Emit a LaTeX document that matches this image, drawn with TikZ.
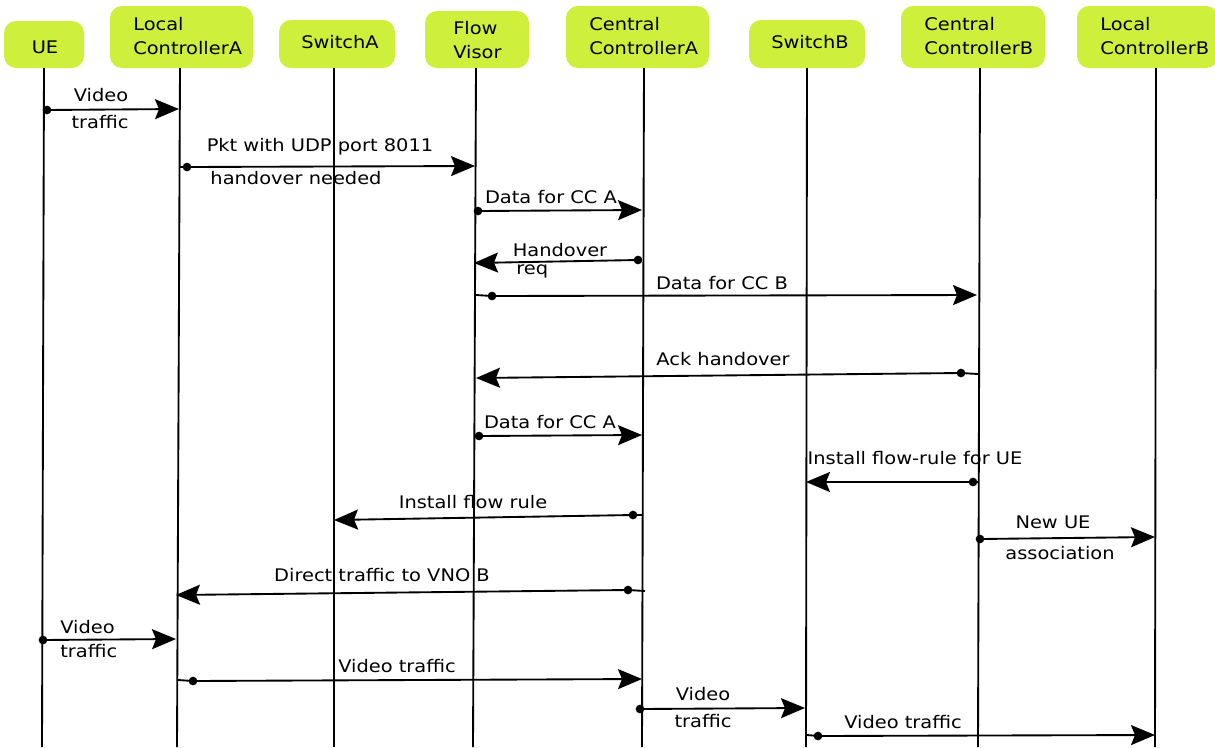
\documentclass[tikz,border=0pt]{standalone}
\usepackage{fontspec}
\setmainfont{DejaVu Sans}[FakeStretch=1.12]
\usetikzlibrary{arrows.meta,fit}
\definecolor{hdr}{RGB}{206,240,60}
\begin{document}
\begin{tikzpicture}[x=0.75pt,y=-0.75pt,
 actor/.style={fill=hdr, draw=none, rounded corners=9pt, inner sep=0pt},
 htxt/.style={font=\fontsize{13}{18}\selectfont, inner sep=0pt, align=left},
 life/.style={line width=1.4pt},
 msg/.style={line width=1.4pt, -{Stealth[length=18pt,width=15pt,inset=3pt]}},
 lbl/.style={font=\fontsize{13}{15}\selectfont, inner sep=0pt},
 dot/.style={circle, fill=black, inner sep=0pt, minimum size=6.5pt}
]
\useasboundingbox (0,0) rectangle (1215,747);
% headers
\node[actor, fit={(4,21) (84,68)}] (ue) {};
\node[htxt] (uet) at (45,47) {UE};
\node[actor, fit={(110,6) (253,68)}] (lca) {};
\node[htxt, anchor=west] (lcat) at (133,36) {Local\\ControllerA};
\node[actor, fit={(279,20) (395,68)}] (swa) {};
\node[htxt] (swat) at (340,42) {SwitchA};
\node[actor, fit={(425,11) (529,68)}] (fv) {};
\node[htxt, anchor=west] (fvt) at (453,40) {Flow\\Visor};
\node[actor, fit={(566,6) (709,68)}] (cca) {};
\node[htxt, anchor=west] (ccat) at (589,36) {Central\\ControllerA};
\node[actor, fit={(749,20) (865,68)}] (swb) {};
\node[htxt] (swbt) at (810,42) {SwitchB};
\node[actor, fit={(901,6) (1045,68)}] (ccb) {};
\node[htxt, anchor=west] (ccbt) at (924,36) {Central\\ControllerB};
\node[actor, fit={(1077,6) (1218,68)}] (lcb) {};
\node[htxt, anchor=west] (lcbt) at (1100,36) {Local\\ControllerB};
% lifelines
\coordinate (ueT) at (44,68);   \coordinate (ueB) at (42,747);
\coordinate (lcaT) at (180,68); \coordinate (lcaB) at (177,747);
\coordinate (swaT) at (334,68); \coordinate (swaB) at (334,747);
\coordinate (fvT) at (476,68);  \coordinate (fvB) at (473,747);
\coordinate (ccaT) at (644,68); \coordinate (ccaB) at (642,747);
\coordinate (swbT) at (807,68); \coordinate (swbB) at (806,747);
\coordinate (ccbT) at (980,68); \coordinate (ccbB) at (978,747);
\coordinate (lcbT) at (1156,68); \coordinate (lcbB) at (1155,747);
\foreach \l in {ue,lca,swa,fv,cca,swb,ccb,lcb} \draw[life] (\l T) -- (\l B);
% message 1
\node[dot] (d1) at (47,110) {}; \coordinate (t1) at (179,109);
\draw[msg] (d1.center) -- (t1);
\node[lbl] (l1a) at (101,95) {Video}; \node[lbl] (l1b) at (100,122) {traffic};
% message 2
\coordinate (s2) at (180,167); \node[dot] (d2) at (187,167) {}; \coordinate (t2) at (475,166);
\draw[msg] (s2) -- (d2.center) -- (t2);
\node[lbl] (l2a) at (320,147) {Pkt with UDP port 8011}; \node[lbl] (l2b) at (296,178) {handover needed};
% message 3
\node[dot] (d3) at (478,211) {}; \coordinate (t3) at (642,210);
\draw[msg] (d3.center) -- (t3);
\node[lbl] (l3) at (551,197) {Data for CC A};
% message 4
\node[dot] (d4) at (638,260) {}; \coordinate (t4) at (474,263);
\draw[msg] (d4.center) -- (t4);
\node[lbl] (l4a) at (560,250) {Handover}; \node[lbl, anchor=west] (l4b) at (516,271) {req};
% message 5
\coordinate (s5) at (476,295); \node[dot] (d5) at (492,296) {}; \coordinate (t5) at (977,295);
\draw[msg] (s5) -- (d5.center) -- (t5);
\node[lbl] (l5) at (722,283) {Data for CC B};
% message 6
\coordinate (s6) at (978,374); \node[dot] (d6) at (961,373) {}; \coordinate (t6) at (476,378);
\draw[msg] (s6) -- (d6.center) -- (t6);
\node[lbl] (l6) at (723,359) {Ack handover};
% message 7
\node[dot] (d7) at (479,436) {}; \coordinate (t7) at (642,435);
\draw[msg] (d7.center) -- (t7);
\node[lbl] (l7) at (550,422) {Data for CC A};
% message 8
\coordinate (s8) at (979,482); \node[dot] (d8) at (973,482) {}; \coordinate (t8) at (806,482);
\draw[msg] (s8) -- (d8.center) -- (t8);
\node[lbl] (l8) at (915,458) {Install flow-rule for UE};
% message 9
\coordinate (s9) at (642,515); \node[dot] (d9) at (633,515) {}; \coordinate (t9) at (334,520);
\draw[msg] (s9) -- (d9.center) -- (t9);
\node[lbl] (l9) at (473,502) {Install flow rule};
% message 10
\node[dot] (d10) at (980,539) {}; \coordinate (t10) at (1155,537);
\draw[msg] (d10.center) -- (t10);
\node[lbl] (l10a) at (1053,522) {New UE}; \node[lbl] (l10b) at (1060,553) {association};
% message 11
\coordinate (s11) at (645,591); \node[dot] (d11) at (628,590) {}; \coordinate (t11) at (176,595);
\draw[msg] (s11) -- (d11.center) -- (t11);
\node[lbl] (l11) at (382,575) {Direct traffic to VNO B};
% message 12
\node[dot] (d12) at (43,640) {}; \coordinate (t12) at (176,639);
\draw[msg] (d12.center) -- (t12);
\node[lbl, anchor=west] (l12a) at (60,627) {Video}; \node[lbl, anchor=west] (l12b) at (60,651) {traffic};
% message 13
\coordinate (s13) at (178,680); \node[dot] (d13) at (193,681) {}; \coordinate (t13) at (642,679);
\draw[msg] (s13) -- (d13.center) -- (t13);
\node[lbl] (l13) at (397,666) {Video traffic};
% message 14
\node[dot] (d14) at (640,709) {}; \coordinate (t14) at (805,708);
\draw[msg] (d14.center) -- (t14);
\node[lbl] (l14a) at (703,694) {Video}; \node[lbl] (l14b) at (703,721) {traffic};
% message 15
\coordinate (s15) at (807,735); \node[dot] (d15) at (818,736) {}; \coordinate (t15) at (1155,735);
\draw[msg] (s15) -- (d15.center) -- (t15);
\node[lbl] (l15) at (903,722) {Video traffic};
\end{tikzpicture}
\end{document}
